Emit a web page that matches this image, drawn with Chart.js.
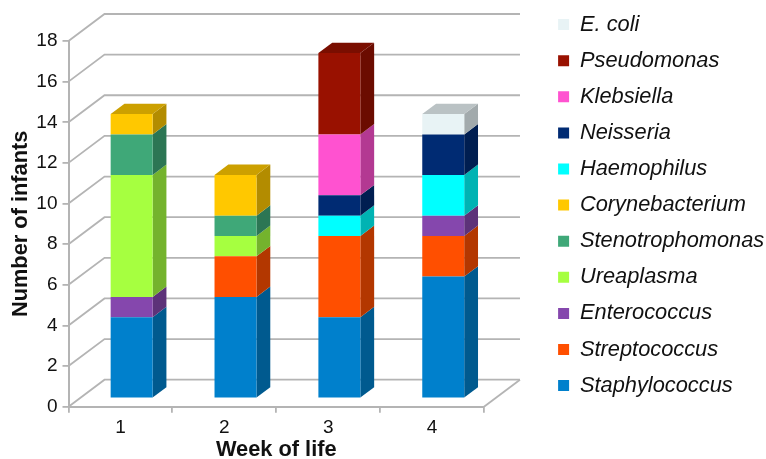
<!DOCTYPE html>
<html>
<head>
<meta charset="utf-8">
<title>Number of infants by week of life</title>
<script src="https://cdn.jsdelivr.net/npm/chart.js@4"></script>
<style>
  html, body { margin: 0; padding: 0; background: #fff; }
  canvas { display: block; }
</style>
</head>
<body>
<canvas id="chart" width="766" height="459"></canvas>
<script>
const weeks = ['1', '2', '3', '4'];

const staphylococcus   = [4, 5, 4, 6];
const streptococcus    = [0, 2, 4, 2];
const enterococcus     = [1, 0, 0, 1];
const ureaplasma       = [6, 1, 0, 0];
const stenotrophomonas = [2, 1, 0, 0];
const corynebacterium  = [1, 2, 0, 0];
const haemophilus      = [0, 0, 1, 2];
const neisseria        = [0, 0, 1, 2];
const klebsiella       = [0, 0, 3, 0];
const pseudomonas      = [0, 0, 4, 0];
const eColi            = [0, 0, 0, 1];

const FONT = '"Liberation Sans", Arial, sans-serif';
const GRID = '#b4b4b4';

// depth of the fake 3D box
const WALL = { x: 36, y: -27 };    // front plane -> back wall
const SHIFT = { x: 11.2, y: -8.2 }; // front plane -> bar plane
const DEPTH = { x: 13.8, y: -10.4 }; // bar thickness

function shade(hex, f) {
    const n = parseInt(hex.slice(1), 16);
    const c = [n >> 16, (n >> 8) & 255, n & 255].map(v => Math.round(v * f));
    return `rgb(${c[0]},${c[1]},${c[2]})`;
}

function poly(ctx, color, pts) {
    ctx.fillStyle = color;
    ctx.beginPath();
    pts.forEach((p, i) => i ? ctx.lineTo(p[0], p[1]) : ctx.moveTo(p[0], p[1]));
    ctx.closePath();
    ctx.fill();
}

const box3d = {
    id: 'box3d',
    // chart.js caps a side legend at a quarter of the width, so move it out by hand
    afterLayout(chart) {
        const lg = chart.legend;
        lg.left = 543.8;
        lg.right = 766;
        lg.top = -0.6;
    },
    beforeDatasetsDraw(chart) {
        const { ctx, chartArea: a, scales: { y } } = chart;

        // walls: each tick runs back from the axis, then along the back
        ctx.save();
        ctx.strokeStyle = GRID;
        ctx.lineWidth = 1.8;
        y.ticks.forEach(t => {
            const py = y.getPixelForValue(t.value);
            ctx.beginPath();
            ctx.moveTo(a.left, py);
            ctx.lineTo(a.left + WALL.x, py + WALL.y);
            ctx.lineTo(a.right + WALL.x, py + WALL.y);
            ctx.stroke();
        });
        ctx.beginPath();
        ctx.moveTo(a.right, a.bottom);
        ctx.lineTo(a.right + WALL.x, a.bottom + WALL.y);
        ctx.stroke();
        ctx.restore();

        ctx.save();
        ctx.translate(SHIFT.x, SHIFT.y);

        const tops = {};
        chart.data.datasets.forEach((ds, i) => {
            chart.getDatasetMeta(i).data.forEach((bar, j) => {
                if (!ds.data[j]) return;
                const { x, y: top, base, width } = bar.getProps(['x', 'y', 'base', 'width'], true);
                const r = x + width / 2;
                poly(ctx, shade(ds.backgroundColor, 0.7), [
                    [r, top], [r + DEPTH.x, top + DEPTH.y],
                    [r + DEPTH.x, base + DEPTH.y], [r, base],
                ]);
                tops[j] = { x, top, width, color: ds.backgroundColor };
            });
        });
        // lid on the highest segment of each stack
        Object.values(tops).forEach(t => {
            const l = t.x - t.width / 2, r = t.x + t.width / 2;
            poly(ctx, shade(t.color, 0.8), [
                [l, t.top], [l + DEPTH.x, t.top + DEPTH.y],
                [r + DEPTH.x, t.top + DEPTH.y], [r, t.top],
            ]);
        });
    },
    afterDatasetsDraw(chart) {
        chart.ctx.restore();
    },
};

function series(label, data, color) {
    return { label, data, backgroundColor: color, borderWidth: 0, barPercentage: 0.404, categoryPercentage: 1 };
}

new Chart(document.getElementById('chart'), {
    type: 'bar',
    data: {
        labels: weeks,
        datasets: [
            series('Staphylococcus', staphylococcus, '#0080cc'),
            series('Streptococcus', streptococcus, '#ff4f00'),
            series('Enterococcus', enterococcus, '#8547ad'),
            series('Ureaplasma', ureaplasma, '#a6ff40'),
            series('Stenotrophomonas', stenotrophomonas, '#3fa878'),
            series('Corynebacterium', corynebacterium, '#ffc800'),
            series('Haemophilus', haemophilus, '#00ffff'),
            series('Neisseria', neisseria, '#002b73'),
            series('Klebsiella', klebsiella, '#ff52d0'),
            series('Pseudomonas', pseudomonas, '#991100'),
            series('E. coli', eColi, '#e8f3f5'),
        ],
    },
    plugins: [box3d],
    options: {
        responsive: false,
        animation: false,
        events: [],
        layout: { padding: { left: 0, right: 120.7, top: 41, bottom: 0 } },
        plugins: {
            tooltip: { enabled: false },
            legend: {
                position: 'right',
                align: 'start',
                reverse: true,
                labels: {
                    boxWidth: 11,
                    boxHeight: 11,
                    padding: 14.3,
                    color: '#111',
                    font: { family: FONT, size: 21.8, style: 'italic' },
                },
            },
        },
        scales: {
            x: {
                stacked: true,
                afterFit: s => { s.height = 52.3; },
                border: { color: GRID, width: 2 },
                grid: { drawOnChartArea: false, color: GRID, lineWidth: 1.8, tickLength: 6 },
                ticks: { color: '#111', padding: 4, font: { family: FONT, size: 19 } },
                title: {
                    display: true,
                    text: 'Week of life',
                    color: '#111',
                    padding: { top: 0, bottom: -4 },
                    font: { family: FONT, size: 21.8, weight: 'bold' },
                },
            },
            y: {
                stacked: true,
                min: 0,
                max: 18,
                afterFit: s => { s.width = 68.5; },
                border: { color: GRID, width: 2 },
                grid: { drawOnChartArea: false, color: GRID, lineWidth: 1.8, tickLength: 6 },
                ticks: { stepSize: 2, color: '#111', padding: 5, font: { family: FONT, size: 19 } },
                title: {
                    display: true,
                    text: 'Number of infants',
                    color: '#111',
                    padding: { top: 8, bottom: 0 },
                    font: { family: FONT, size: 21.8, weight: 'bold' },
                },
            },
        },
    },
});
</script>
</body>
</html>
